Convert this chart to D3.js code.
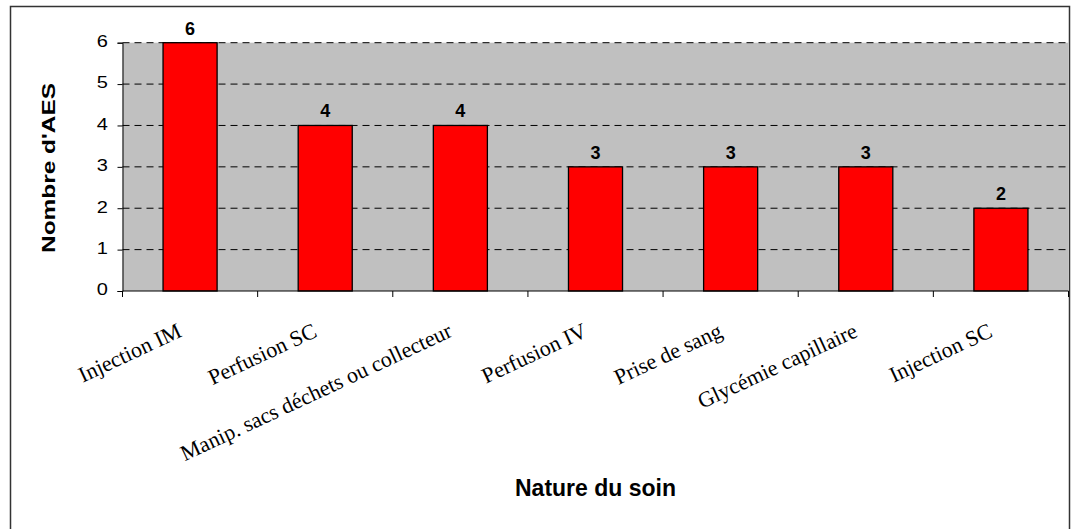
<!DOCTYPE html>
<html>
<head>
<meta charset="utf-8">
<script src="https://cdn.jsdelivr.net/npm/d3@7"></script>
<style>
  body { margin: 0; background: #fff; }
  svg { display: block; }
</style>
</head>
<body>
<div id="chart"></div>
<script>
// Chart data
const categories = ['Injection IM', 'Perfusion SC', 'Manip. sacs déchets ou collecteur', 'Perfusion IV', 'Prise de sang', 'Glycémie capillaire', 'Injection SC'];
const values = [6, 4, 4, 3, 3, 3, 2];
const yTicks = [0, 1, 2, 3, 4, 5, 6];

const W = 1071, H = 529;
const plot = { left: 122.5, right: 1068.5, top: 42.7, bottom: 291 };
const SANS = 'Liberation Sans, Arial, sans-serif';

const svg = d3.select('#chart').append('svg')
  .attr('width', W)
  .attr('height', H);

// Outer frame (bottom edge is cut off in the original)
svg.append('rect')
  .attr('x', 10.5).attr('y', 6.5)
  .attr('width', 1059).attr('height', 540)
  .attr('fill', '#fff')
  .attr('stroke', '#333')
  .attr('stroke-width', 1.5);

const x = d3.scaleBand()
  .domain(categories)
  .range([plot.left, plot.right])
  .paddingInner(0.6)
  .paddingOuter(0.3);

const y = d3.scaleLinear()
  .domain([0, 6])
  .range([plot.bottom, plot.top]);

// Plot background
svg.append('rect')
  .attr('x', plot.left).attr('y', plot.top)
  .attr('width', plot.right - plot.left)
  .attr('height', plot.bottom - plot.top)
  .attr('fill', '#c0c0c0');

// Gridlines
svg.append('g').selectAll('line').data(yTicks.filter(d => d > 0)).join('line')
  .attr('x1', plot.left).attr('x2', plot.right)
  .attr('y1', d => y(d)).attr('y2', d => y(d))
  .attr('stroke', '#000')
  .attr('stroke-width', 1)
  .attr('stroke-dasharray', '7,5');

// Y axis (labels drawn separately, they are wide in the original)
const yAxis = svg.append('g')
  .attr('transform', `translate(${plot.left},0)`)
  .call(d3.axisLeft(y).tickValues(yTicks).tickSize(5).tickFormat(''));
yAxis.select('.domain').attr('stroke', '#000');
yAxis.selectAll('.tick line').attr('stroke', '#000');

svg.append('g').selectAll('text').data(yTicks).join('text')
  .attr('transform', d => `translate(108,${y(d) - 1.5}) scale(1.25,1)`)
  .attr('dy', '0.36em')
  .attr('text-anchor', 'end')
  .attr('font-family', SANS)
  .attr('font-size', 16)
  .attr('fill', '#000')
  .text(d => d);

// Bars
svg.append('g').selectAll('rect').data(values).join('rect')
  .attr('x', (d, i) => x(categories[i]))
  .attr('y', d => y(d))
  .attr('width', x.bandwidth())
  .attr('height', d => y(0) - y(d))
  .attr('fill', '#ff0000')
  .attr('stroke', '#000')
  .attr('stroke-width', 1.3);

// Value labels
svg.append('g').selectAll('text').data(values).join('text')
  .attr('x', (d, i) => x(categories[i]) + x.bandwidth() / 2)
  .attr('y', d => y(d) - 8)
  .attr('text-anchor', 'middle')
  .attr('font-family', SANS)
  .attr('font-weight', 'bold')
  .attr('font-size', 18)
  .text(d => d);

// X axis line and boundary ticks
const step = x.step();
const bounds = d3.range(categories.length + 1).map(i => plot.left + i * step);
svg.append('line')
  .attr('x1', plot.left).attr('x2', plot.right)
  .attr('y1', plot.bottom).attr('y2', plot.bottom)
  .attr('stroke', '#000');
svg.append('g').selectAll('line').data(bounds).join('line')
  .attr('x1', d => d).attr('x2', d => d)
  .attr('y1', plot.bottom).attr('y2', plot.bottom + 6)
  .attr('stroke', '#000');

// Category labels, slanted
svg.append('g').selectAll('text').data(categories).join('text')
  .attr('transform', d => `translate(${x(d) + x.bandwidth() / 2 - 7},336) rotate(-25)`)
  .attr('text-anchor', 'end')
  .attr('font-family', 'Liberation Serif, Times New Roman, serif')
  .attr('font-size', 22)
  .attr('fill', '#000')
  .text(d => d);

// Axis titles
svg.append('text')
  .attr('transform', `translate(55,168) rotate(-90)`)
  .attr('text-anchor', 'middle')
  .attr('font-family', SANS)
  .attr('font-weight', 'bold')
  .attr('font-size', 18)
  .attr('textLength', 170)
  .attr('lengthAdjust', 'spacingAndGlyphs')
  .text("Nombre d'AES");

svg.append('text')
  .attr('x', (plot.left + plot.right) / 2)
  .attr('y', 496)
  .attr('text-anchor', 'middle')
  .attr('font-family', SANS)
  .attr('font-weight', 'bold')
  .attr('font-size', 23)
  .text('Nature du soin');
</script>
</body>
</html>
